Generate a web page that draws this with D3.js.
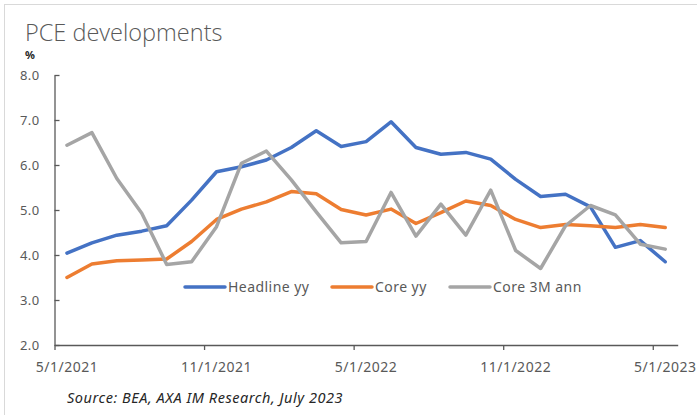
<!DOCTYPE html>
<html>
<head>
<meta charset="utf-8">
<script src="https://cdn.jsdelivr.net/npm/d3@7"></script>
<style>
  html, body { margin: 0; padding: 0; background: #ffffff; }
  svg { display: block; }
</style>
</head>
<body>
<svg id="chart" width="697" height="415"></svg>
<script>
// Monthly observations, May 2021 to May 2023
const months = [
  "5/1/2021", "6/1/2021", "7/1/2021", "8/1/2021", "9/1/2021", "10/1/2021",
  "11/1/2021", "12/1/2021", "1/1/2022", "2/1/2022", "3/1/2022", "4/1/2022",
  "5/1/2022", "6/1/2022", "7/1/2022", "8/1/2022", "9/1/2022", "10/1/2022",
  "11/1/2022", "12/1/2022", "1/1/2023", "2/1/2023", "3/1/2023", "4/1/2023",
  "5/1/2023"
];

const headlineYY = [
  4.04, 4.27, 4.44, 4.53, 4.65, 5.22, 5.85, 5.96, 6.11, 6.39, 6.76, 6.41,
  6.52, 6.96, 6.39, 6.24, 6.28, 6.13, 5.68, 5.30, 5.35, 5.07, 4.17, 4.32,
  3.85
];

const coreYY = [
  3.50, 3.80, 3.87, 3.89, 3.91, 4.30, 4.79, 5.02, 5.18, 5.41, 5.36, 5.01,
  4.89, 5.02, 4.70, 4.94, 5.20, 5.10, 4.79, 4.61, 4.68, 4.65, 4.61, 4.68,
  4.61
];

const core3MAnn = [
  6.44, 6.72, 5.70, 4.93, 3.79, 3.85, 4.63, 6.04, 6.31, 5.67, 4.96, 4.27,
  4.30, 5.39, 4.42, 5.13, 4.44, 5.44, 4.10, 3.70, 4.65, 5.10, 4.89, 4.24,
  4.13
];

const yTicks = [2, 3, 4, 5, 6, 7, 8];
const xLabelMonths = ["5/1/2021", "11/1/2021", "5/1/2022", "11/1/2022", "5/1/2023"];

const seriesNames = ["Headline yy", "Core yy", "Core 3M ann"];
const seriesColors = ["#4472C4", "#ED7D31", "#A5A5A5"];

const series = [headlineYY, coreYY, core3MAnn].map((values, k) => ({
  name: seriesNames[k],
  color: seriesColors[k],
  values
}));

const svg = d3.select("#chart");
const labelFont = "'Noto Sans', 'Open Sans', sans-serif";
const textGrey = "#595959";
const axisGrey = "#595959";

// Frame edges
svg.append("line").attr("x1", 4).attr("x2", 697).attr("y1", 4.5).attr("y2", 4.5)
  .attr("stroke", "#d9d9d9").attr("stroke-width", 1);
svg.append("line").attr("x1", 4.5).attr("x2", 4.5).attr("y1", 4).attr("y2", 415)
  .attr("stroke", "#d9d9d9").attr("stroke-width", 1);

// Plot area
const plotLeft = 54.5, plotRight = 677.7, plotTop = 75, plotBottom = 345;

// Each month occupies one slot; points sit at slot centres
const xSlot = d3.scaleLinear().domain([0, months.length]).range([plotLeft, plotRight]);
const xBand = d3.scaleBand().domain(months).range([plotLeft, plotRight]).padding(0);
const y = d3.scaleLinear().domain([2, 8]).range([plotBottom, plotTop]);

// Title
svg.append("text")
  .attr("x", 25).attr("y", 40.5)
  .attr("font-family", "'Open Sans', 'Noto Sans', sans-serif")
  .attr("font-weight", 300)
  .attr("font-size", 23.5)
  .attr("fill", textGrey)
  .text("PCE developments");

svg.append("text")
  .attr("x", 25).attr("y", 59)
  .attr("font-family", labelFont)
  .attr("font-weight", 700)
  .attr("font-size", 11)
  .attr("fill", "#262626")
  .text("%");

// Y axis
const yAxis = d3.axisLeft(y)
  .tickValues(yTicks)
  .tickFormat(d3.format(".1f"))
  .tickSizeInner(-5)
  .tickSizeOuter(0)
  .tickPadding(15);

const gy = svg.append("g")
  .attr("transform", `translate(${plotLeft},0)`)
  .call(yAxis);
gy.select(".domain").attr("stroke", axisGrey).attr("stroke-width", 1.3);
gy.selectAll(".tick line").attr("stroke", axisGrey).attr("stroke-width", 1.3);
gy.selectAll(".tick text")
  .attr("font-family", labelFont)
  .attr("font-size", 13)
  .attr("letter-spacing", 0.4)
  .attr("fill", textGrey);

// X axis: tick marks on slot boundaries every six months
const tickIdx = xLabelMonths.map(m => months.indexOf(m));
const xTickAxis = d3.axisBottom(xSlot)
  .tickValues(tickIdx)
  .tickFormat("")
  .tickSizeInner(5)
  .tickSizeOuter(0);
const gxTicks = svg.append("g")
  .attr("transform", `translate(0,${plotBottom})`)
  .call(xTickAxis);
gxTicks.select(".domain").attr("stroke", axisGrey).attr("stroke-width", 1.3);
gxTicks.selectAll(".tick line").attr("stroke", axisGrey).attr("stroke-width", 1.3);

// X axis labels centred on their month
const xLabelAxis = d3.axisBottom(xBand)
  .tickValues(xLabelMonths)
  .tickSize(0)
  .tickPadding(17);
const gxLabels = svg.append("g")
  .attr("transform", `translate(0,${plotBottom})`)
  .call(xLabelAxis);
gxLabels.select(".domain").remove();
gxLabels.selectAll(".tick text")
  .attr("font-family", labelFont)
  .attr("font-size", 14)
  .attr("letter-spacing", 0.5)
  .attr("fill", textGrey);

// Series lines
const line = d3.line()
  .x((d, i) => xBand(months[i]) + xBand.bandwidth() / 2)
  .y(d => y(d));

svg.append("g")
  .selectAll("path")
  .data(series)
  .join("path")
  .attr("d", s => line(s.values))
  .attr("fill", "none")
  .attr("stroke", s => s.color)
  .attr("stroke-width", 3.5)
  .attr("stroke-linejoin", "round")
  .attr("stroke-linecap", "round");

// Legend
const legendX = [185, 332, 450];
const legendY = 287;
const legend = svg.append("g")
  .selectAll("g")
  .data(series)
  .join("g")
  .attr("transform", (s, i) => `translate(${legendX[i]},${legendY})`);
legend.append("line")
  .attr("x1", 0).attr("x2", 40)
  .attr("y1", 0).attr("y2", 0)
  .attr("stroke", s => s.color)
  .attr("stroke-width", 3.5)
  .attr("stroke-linecap", "round");
legend.append("text")
  .attr("x", 43)
  .attr("y", 0)
  .attr("dy", "0.35em")
  .attr("font-family", labelFont)
  .attr("font-size", 14)
  .attr("letter-spacing", 0.45)
  .attr("fill", textGrey)
  .text(s => s.name);

// Source note
svg.append("text")
  .attr("x", 67).attr("y", 403)
  .attr("font-family", labelFont)
  .attr("font-style", "italic")
  .attr("font-size", 14.5)
  .attr("letter-spacing", 0.55)
  .attr("fill", "#262626")
  .text("Source: BEA, AXA IM Research, July 2023");
</script>
</body>
</html>
